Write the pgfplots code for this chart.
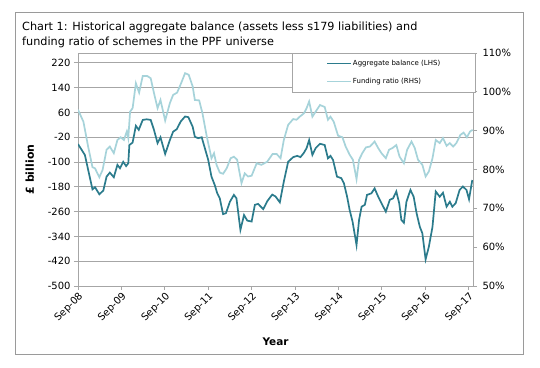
\documentclass[border=0pt]{standalone}
\usepackage{fontspec}
\setmainfont{DejaVu Sans}
\usepackage{pgfplots}
\pgfplotsset{compat=1.18}
\definecolor{darkteal}{HTML}{2B7B8C}
\definecolor{lightteal}{HTML}{A6D3DA}
\definecolor{gridgray}{HTML}{A6A6A6}
\definecolor{framegray}{HTML}{9A9A9A}

\pgfplotstableread{
m v
0.0 -42
1.9 -77
4.0 -188
4.7 -181
5.9 -204
7.0 -192
7.9 -147
8.8 -134
9.9 -149
10.9 -109
11.6 -120
12.5 -99
13.3 -113
13.9 -104
14.2 -45
15.1 -37
16.0 17
16.8 4
17.9 36
19.0 38
20.1 36
21.0 4
22.0 -39
22.8 -20
24.1 -74
25.4 -29
26.3 -2
27.3 6
28.4 31
29.6 47
30.5 45
31.7 14
32.3 -18
33.2 -23
34.2 -20
36.0 -93
36.9 -147
37.8 -174
38.5 -201
39.2 -217
40.1 -268
40.9 -265
42.0 -228
43.1 -206
43.8 -217
44.9 -319
45.9 -271
46.8 -289
48.0 -292
48.9 -238
49.8 -235
51.2 -252
52.4 -225
53.7 -205
54.6 -211
55.8 -230
56.9 -163
58.1 -99
59.5 -84
60.6 -80
61.5 -84
62.4 -71
63.2 -55
63.9 -29
64.8 -77
65.7 -55
66.9 -41
68.2 -45
69.1 -88
69.8 -80
70.5 -93
71.6 -147
72.8 -152
73.5 -168
74.4 -212
75.1 -255
75.9 -292
77.0 -368
77.7 -287
78.4 -244
79.3 -238
79.9 -206
81.1 -201
82.0 -185
83.0 -212
83.9 -233
85.1 -260
86.2 -222
87.1 -217
88.0 -195
88.8 -233
89.4 -287
90.1 -296
90.8 -228
91.9 -190
92.8 -212
93.6 -265
94.5 -309
95.2 -330
96.1 -414
97.0 -373
98.0 -309
98.9 -195
100.0 -212
100.9 -199
101.9 -244
102.8 -228
103.5 -244
104.4 -233
105.5 -190
106.4 -179
107.4 -190
108.1 -220
109.0 -158
}\balance

\pgfplotstableread{
m r
0.0 95.4
1.5 92.3
2.8 85.9
4.0 80.6
4.7 80.3
5.9 78.0
6.8 79.9
7.9 85.1
8.8 85.9
9.9 84.2
10.9 87.6
11.8 88.3
12.7 87.6
13.5 89.8
13.9 88.1
14.4 94.9
15.1 95.8
16.0 102.2
16.9 99.8
17.9 104.1
19.1 104.1
20.1 103.5
21.0 99.7
22.0 95.8
22.8 97.9
24.1 92.6
25.4 97.1
26.3 99.2
27.4 99.8
28.5 102.2
29.6 104.8
30.6 104.4
31.7 101.4
32.3 97.9
33.5 97.8
34.4 94.5
35.6 88.5
36.9 82.9
37.6 84.2
38.3 81.2
39.2 79.2
40.1 78.9
41.1 80.3
42.2 82.9
43.1 83.3
44.0 82.5
45.2 76.5
46.1 79.0
47.0 78.2
48.0 78.4
49.4 81.6
50.7 81.2
52.3 82.0
53.8 84.0
54.9 84.0
56.0 82.9
56.9 87.6
58.1 91.5
59.5 93.0
60.4 92.8
61.3 93.6
62.5 94.5
63.2 95.8
63.9 97.5
64.8 93.6
65.7 94.9
66.9 96.6
68.2 96.1
69.1 92.8
69.8 93.6
70.7 92.3
71.9 88.7
73.1 88.3
74.0 85.9
75.1 83.8
76.0 82.5
77.0 77.5
77.7 82.5
78.6 84.2
79.6 85.7
80.7 85.9
82.0 87.2
83.0 85.5
83.9 84.2
85.1 82.9
86.0 85.1
86.9 85.5
88.0 86.3
88.9 83.3
90.1 81.6
91.0 85.1
92.2 87.2
93.1 85.5
94.0 82.5
95.2 81.2
96.1 78.2
97.0 79.5
98.0 82.9
98.9 87.6
100.0 86.8
100.9 88.1
101.9 86.1
102.8 86.8
103.7 85.9
104.6 86.8
105.7 88.9
106.6 89.5
107.5 88.3
108.4 89.8
109.1 90.2
}\ratio

\begin{document}
\begin{tikzpicture}
\useasboundingbox (0bp,0bp) rectangle (540bp,368bp);
\fill[white] (0bp,0bp) rectangle (540bp,368bp);
\draw[framegray, line width=1bp] (15bp,13bp) rectangle (523bp,355bp);
\node[anchor=base west, inner sep=0, font=\fontsize{11.3}{13}\selectfont] at (22bp,337bp) {Chart 1: Historical aggregate balance (assets less s179 liabilities) and};
\node[anchor=base west, inner sep=0, font=\fontsize{11.3}{13}\selectfont] at (22bp,322bp) {funding ratio of schemes in the PPF universe};

\begin{axis}[
  at={(78bp,82bp)}, anchor=south west, scale only axis,
  width=395bp, height=233bp,
  xmin=0, xmax=109.2, ymin=-500, ymax=252,
  xtick={0,12,24,36,48,60,72,84,96,108},
  xticklabels={Sep-08,Sep-09,Sep-10,Sep-11,Sep-12,Sep-13,Sep-14,Sep-15,Sep-16,Sep-17},
  ytick={-500,-420,-340,-260,-180,-100,-20,60,140,220},
  ymajorgrids, grid style={gridgray, line width=0.9bp},
  axis line style={gridgray, line width=0.9bp},
  tick style={gridgray, line width=0.9bp},
  tick align=outside, major tick length=4bp,
  xtick pos=bottom, ytick pos=left,
  /pgf/number format/assume math mode=true,
  x tick label style={rotate=45, anchor=north east, font=\fontsize{10}{12}\selectfont, inner sep=1bp},
  y tick label style={font=\fontsize{10}{12}\selectfont},
  ylabel={\textbf{£ billion}},
  ylabel style={at={(axis description cs:-0.122,0.5)}, anchor=center, font=\fontsize{11}{13}\selectfont},
  xlabel={\textbf{Year}},
  xlabel style={at={(axis description cs:0.5,-0.239)}, anchor=center, font=\fontsize{10.5}{12}\selectfont},
]
\addplot[darkteal, line width=1.7bp] table[x=m,y=v] {\balance};
\end{axis}

\begin{axis}[
  at={(78bp,82bp)}, anchor=south west, scale only axis,
  width=395bp, height=233bp,
  xmin=0, xmax=109.2, ymin=50, ymax=110,
  axis x line=none, axis y line*=right,
  ytick={50,60,70,80,90,100,110},
  yticklabel={\pgfmathprintnumber{\tick}\%},
  axis line style={gridgray, line width=0.9bp},
  tick style={gridgray, line width=0.9bp},
  tick align=outside, major tick length=4bp,
  /pgf/number format/assume math mode=true,
  y tick label style={font=\fontsize{10}{12}\selectfont, xshift=2bp},
  legend style={at={(0.542,1)}, anchor=north west, draw=gridgray, fill=white,
    font=\fontsize{7}{8}\selectfont, inner xsep=34bp, inner ysep=6bp,
    row sep=9bp, nodes={inner sep=1bp}},
  legend cell align=left,
  legend image code/.code={\draw[#1] (0bp,0bp) -- (24bp,0bp);},
]
\addlegendimage{darkteal, line width=1.7bp}
\addlegendentry{Aggregate balance (LHS)}
\addplot[lightteal, line width=1.7bp] table[x=m,y=r] {\ratio};
\addlegendentry{Funding ratio (RHS)}
\end{axis}
\end{tikzpicture}
\end{document}
